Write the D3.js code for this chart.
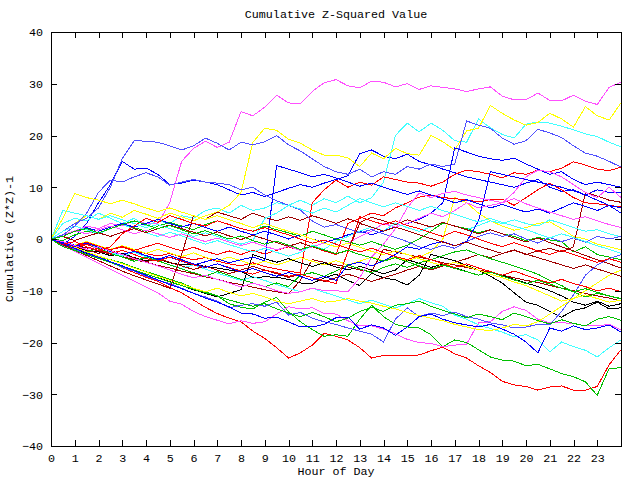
<!DOCTYPE html>
<html><head><meta charset="utf-8">
<script src="https://cdn.jsdelivr.net/npm/d3@7"></script>
<style>
body{margin:0;background:#fff}
svg text{font-family:"Liberation Mono","DejaVu Sans Mono",monospace;font-size:11.7px;fill:#000}
</style>
</head><body>
<svg id="chart" width="640" height="480"></svg>
<script>
// ---------- data (value every half hour, 0 .. 24) ----------
const stepHours = 0.5;
const hourTicks = d3.range(0, 24);
const valueTicks = [-40, -30, -20, -10, 0, 10, 20, 30, 40];

const M1 = [0,0.8,1.5,2.5,2,3,2.5,3.5, 3,3,7,15,17.5,18.9,17.7,18.7, 24.6,23.8,25.5,27.8,26.3,26.1,28.5,30.2, 30.8,29.6,29.2,30.5,30.3,29.4,30,28.9, 29.6,29.3,29,28.5,29,29.4,27.6,26.9, 26.9,28.2,26.8,26.7,27.8,26.6,26,29.3, 30.3];
const Y1 = [0,1.5,3,4.5,3.8,5,4.2,5.5, 4.8,4,5,4.3,3.5,4.5,5.2,6.5, 9,18.7,21.4,21,19.3,18.5,17.2,16.2, 16.2,15.7,14,16.6,15.5,17.5,16.5,16.2, 20,18.8,17.2,20.9,21.4,25.8,24.3,23, 22,22.5,24.3,23.2,21.6,25.6,23.8,23, 26.3];
const C1 = [0,3,4,3.5,5,4,3,4, 2.5,3.5,3,4.5,4,5.5,6,5, 6.5,5.5,6,7,6.5,7.5,6.5,7.8, 7,8.3,7,8,11,20,22.4,20.7, 22.4,21,19,18.7,23.2,21.5,20.2,19.5, 22.2,22.6,22.4,21.8,21.1,20.3,19.8,18.7, 17.8];
const B1 = [0,1.5,3,4,6,10,15.5,19, 18.9,18.7,18,17.2,18,19.5,18.5,17.2, 18.7,18.2,18.8,20,18.2,17,15.5,14, 13,12.5,13.5,12,13,12.5,14,13.5, 14.5,14,14.5,22.8,22,21.4,19.5,18.3, 19,21.2,20.5,19.6,18,16.6,16,15, 13.9];
const B2 = [0,-1,0.5,3,7,10.5,15,13.5, 13.7,12.5,10.5,10.8,11.4,11,10.5,9.5, 8.5,9,8.2,9,9.8,10.5,10,10.8, 11.5,12.2,16.5,17.2,16,15.5,16.4,15, 14.3,13.5,12.8,12,11.5,11,10.5,10, 10.8,11.5,10,9.2,9.5,8.5,9.5,9, 8.9];
const B3 = [0,0.8,1.5,2.2,1.5,2.3,3,2.3, 3,3.8,3,2.3,3,2.2,1.5,2.3, 1.5,0.8,1.5,0.8,0,0.8,0,-0.7, 0,0.8,1.5,0.8,1.6,2.3,3,3.8, 5,7,17.6,16.8,16,15.5,15.2,15.6, 14.5,13.5,12.5,13,11.5,10.5,11,10.5, 10];
const B4 = [0,-0.5,-1.2,-2,-1.5,-2.4,-3,-2.4, -3.2,-4,-3.5,-4.3,-5,-4.4,-3.8,-4.6, -4,-3.5,-4.2,14.2,13.5,12.8,12,12.5, 11.8,11,10.2,10.8,10,9.3,8.6,9.3, 8.5,7.8,7,7.6,6.8,6,6.7,5.9, 5.2,5.8,5,6,7,6.3,5.5,6.5, 6];
const B5 = [0,-0.7,-1.4,-0.8,-1.6,-2.3,-3,-2.4, -3.2,-3.9,-3.2,-4,-4.8,-5.5,-4.8,-5.6, -6.4,-5.7,-6.5,-7.2,-6.5,-7.2,-8,-7.2, -8,-5,-4.5,-5.2,-4.2,-3,-1.5,-2, -1,-0.5,-1.3,-0.5,3.5,13,12.5,12, 11.5,11,10.5,10,9.3,8.5,7.5,6.5, 5];
const B6 = [0,-0.9,-1.8,-2.7,-3.5,-4.4,-5.2,-6.1, -7,-7.9,-8.8,-9.6,-10.5,-11.4,-12.2,-13.1, -14.3,-14.5,-15.3,-15.1,-16,-17,-17,-16.5, -15.2,-15.1,-17.4,-16.6,-17.2,-18.6,-17,-15, -14.5,-15.5,-16.2,-16.6,-17,-16.5,-17.4,-18.4, -19.9,-22,-17.2,-17.8,-16.8,-17.5,-17.2,-16.6, -18];
const B8 = [0,-1.2,-2,-3,-3.6,-4.5,-5.5,-6.2, -7.2,-8,-8.6,-9.5,-10.5,-11.2,-12,-13.3, -12.8,-12.5,-13,-12.2,-14.7,-14.2,-15.3,-16, -16.5,-17.2,-17.8,-18.4,-19.9,-15.5,-13.3,-15, -14.3,-14.8,-14.1,-15,-15.5,-16.2,-16.6,-17.2, -17,-16.5,-16.6,-14,-10.8,-7,-5,-3.8, -3];
const B9 = [0,0.8,2.5,5,9,11.4,11,12, 12.8,12,10.4,11,11.5,11,10.8,10.5, 9.5,10,8.5,7.4,6.5,5.6,3.5,2.3, 2.8,2,1.2,1.8,1,0.3,-0.5,-1.5, -2,-1.2,-1.8,-0.5,0.5,1.2,0.5,1, 0,-0.8,0.3,-0.5,0.2,-0.6,0.5,0, 0.5];
const R1 = [0,-1,-2,-2.8,-3.6,-4.5,-5.5,-6.5, -7.4,-8.2,-9.4,-10.4,-11.8,-13.2,-14.4,-15.3, -16,-17.8,-19.2,-21,-23,-22,-20.5,-18.2, -18.8,-19.5,-21,-23,-22.5,-22.6,-22.6,-22.4, -21.6,-20.9,-22.2,-23,-24.5,-25.8,-27.5,-28.2, -28.5,-29.2,-28.6,-28.4,-29.2,-29.2,-28.5,-24.3, -21.4];
const R2 = [0,-0.6,-1.2,-0.8,-1.5,-2,-1.6,-2.3, -2.8,-3.3,-2.8,-3.5,-4,-3.6,-4.3,-4.8, -5.2,-4.6,-5.3,-5.8,-6.2,-6.6,7,9.5, 11.4,10,11,10.4,12,11.5,11,10.8, 10.2,11,12.5,13.3,13,12.5,11.8,12.8, 12.5,13.3,13,13.7,14.9,14.3,13.5,13.2, 13.9];
const R3 = [0,-0.5,-1.3,-0.6,-1.4,-2.1,-1.4,-2.2, -1.5,-0.8,-1.6,-2.3,-1.6,-2.4,-3,-2.3, -3,-2.2,-2.9,-2.2,-1.5,-2.2,-1.5,-2.3, -3,3,4,5,4.5,6,7,8.1, 8.5,8,7.8,7.5,7.2,7.6,7.7,6.5, 8,9.5,10.8,9.5,8,7,6.8,6.5, 6.2];
const R4 = [0,-0.8,-1.5,-1,-2,-2.8,-2.2,-3, -3.8,-4.3,-3.5,-4.2,-5,-5.5,-4.8,-5.5, -6.2,-6.8,-6,-6.5,-7.2,-6.8,-7.5,-8, -8.6,-2.5,4.3,3.5,2.8,3.5,2.6,2, 1.2,0.5,1.5,0.8,0,-0.8,-1.5,-0.7, -1.5,-2.3,-3,-2.2,-3,-3.8,-4.5,-3.8, -4.5];
const R5 = [0,-1,-0.5,-1.5,-2.2,-1.5,1,2.5, 4,3.2,4.5,3.8,3,2.5,3.5,2.8, 2,1.5,2.2,1.5,0.8,0,-0.8,-0.2, -1,-1.8,-2.5,-1.8,-2.6,-3.4,-4,-3.2, -4,-4.8,-5.5,-4.8,-5.6,-6.3,-7,-6.2, -7,-7.8,-8.5,-7.8,-8.6,-9.2,-10,-9.5, -10.2];
const G1 = [0,-1.2,-2,-2.5,-3.5,-4,-4.6,-5.5, -6.3,-7,-7.8,-8.5,-9.5,-10.2,-11,-12.5, -13.2,-13.5,-12.2,-11.3,-14,-16,-17.5,-18.8, -18.5,-18.8,-15.5,-12.8,-15,-16.5,-17,-17.2, -18.5,-20.8,-19.5,-20,-21.4,-22.8,-23.4,-23.6, -24.5,-24.2,-25.1,-26,-26.6,-27.6,-30.2,-25, -24.9];
const G2 = [0,-0.3,0.8,1.5,1,2,2.8,2.2, 1.5,2.5,3.2,2.5,1.8,2.8,3.5,2.8, 2,1.5,2.5,1.8,1.2,0.5,1.5,0.8, 0,-0.5,-1.2,-0.5,-1.3,-2,-1.2,0, 1.5,3.1,2.5,2,1.2,1.8,1,0.5, -0.3,0.3,-0.2,-0.5,-2.5,-1.5,-3,-3.5, -4];
const G3 = [0,-1,-1.8,-2.5,-1.8,-2.8,-3.5,-4.3, -3.5,-4.2,-5,-5.8,-6.5,-7.2,-6.3,-7, -7.8,-8.5,-9.2,-8.5,-9.2,-7,-6.5,-7.2, -6.2,-5,-5.8,-6.5,-5.5,-4.8,-5.5,-4.6, -4,-3.2,-2.5,-2.1,-3,-3.8,-4.5,-5.2, -6,-6.8,-8,-9,-10.2,-11.2,-10.5,-11, -11.5];
const G4 = [0,-1.5,-2.2,-3,-3.8,-4.5,-5.3,-6, -6.8,-7.5,-8.3,-9,-9.7,-10.4,-11,-11.8, -12.4,-13,-12.5,-13.5,-14.3,-15,-14.2,-15, -16,-15.3,-14,-13.2,-14,-12.8,-12.5,-12, -13,-13.8,-14.5,-15.2,-14.5,-15,-15.6,-14.3, -15,-15.8,-16.4,-15.6,-16.3,-16.8,-15.5,-15, -15.7];
const G5 = [0,0.5,1.5,2,1.2,2,2.8,3.5, 2.8,2,2.6,1.8,1,1.6,0.8,0, 0.6,-0.3,-1,-0.4,-1.2,-2,-1.4,-2.1, -2.8,-2.2,-3,-3.6,-4.3,-3.6,-4.4,-5.2, -5.8,-5,-5.7,-6.3,-7,-6.4,-7.2,-7.9, -8.6,-8,-8.7,-9.5,-10.2,-9.6,-10.3,-11, -11.6];
const M2 = [0,-1.2,-2.4,-3.5,-4.7,-5.8,-7,-8.1, -9.3,-10.4,-12,-12.6,-14,-15,-15.7,-16.4, -15.8,-16.3,-16,-14.5,-13.1,-13.5,-13.3,-14.4, -14.5,-15.8,-16.8,-16.8,-17.4,-18.3,-19.4,-20, -20.2,-20.8,-20.5,-20.3,-16.2,-16,-14,-13.1, -13.8,-15.5,-16.2,-16.2,-16.3,-16.8,-16.8,-16.5, -17.6];
const M3 = [0,0.8,1.6,1,1.8,2.5,1.8,1, 1.7,1,0.3,1,0.2,-0.5,0.2,-0.6, -1.3,-0.6,-1.4,-2.1,-1.4,-2.2,-1.5,-0.8, -1.5,-0.8,0.5,1.5,3,2.3,3,4, 5,4.3,5.5,7,6,6.5,7,9, 12,13.3,13,12,10.5,9,8,10, 8];
const M4 = [0,-0.5,-1.3,-2,-1.5,-2.3,-3,-3.8, -4.5,-5.2,-6,-6.8,-7.5,-7,-7.8,-8.5, -9.3,-8.5,-9.2,-10,-10.5,-10.2,-9.5,-10, -10,-10.2,-7.5,-3.5,-1,2,6,8.9, 8,8.8,9.2,8.5,8,7.5,7,7.8, 6.8,6,5.2,4.5,3.8,4.3,3.5,2.8, 2.2];
const C2 = [0,-0.6,-1.3,-1,-1.8,-2.6,-3.3,-2.6, -3.4,-4.2,-5,-5.7,-5,-5.8,-6.6,-7.3, -8,-7.3,-8,-8.8,-9.5,-10.2,-9.5,-10.3, -11,-11.8,-12.5,-11.8,-12.6,-13.3,-12.5,-11.5, -12.3,-13,-14.7,-15.5,-16.6,-17.3,-18,-18.9, -18.5,-19.5,-21.8,-19.9,-20.8,-21.5,-22.8,-21, -19.5];
const C3 = [0,1.5,2.5,1.8,1,2,2.8,2, 1.2,0.5,1.3,0.6,-0.2,-1,-0.3,-1.1, -1.8,-2.5,-1.8,-2.6,-3.3,-2.6,-1.2,-2, -0.5,0.5,1.5,2.3,1.6,3,2.2,1.5, 2.3,3.2,2.5,1.8,2.6,3.5,3,3.7, 3,2.5,3.7,3,2.2,1.5,1.8,1, 0.4];
const C4 = [0,5.5,5,4.5,3.8,4.5,3.7,3, 2.2,2.8,2,1.3,0.5,1.2,0.5,-0.3, -1,-0.3,4,5,6.5,5.8,5,6, 5.2,6.5,7.8,7,6.2,7,6.3,5.5, 6.3,5.5,4.8,4,3.3,4,3.2,2.5, 1.8,1,0.2,1,0.3,-0.5,-1.3,-2, -2.8];
const Y2 = [0,-0.6,-1.2,-0.5,-1.3,-2,-1.3,-2, -2.8,-2,-2.7,-3.4,-2.7,-3.5,-4.2,-3.5, -4.2,-5,-4.3,-5,-4.3,-3.6,-4.3,-5, -4.2,-5,-4.3,-3.5,-4.2,-3.5,-4.2,-3.5, -2.5,0,8,7,5,3.5,2.5,1.7, 2.2,3,3.3,2,0.5,0,-1,-1.5, -2.1];
const Y3 = [0,-0.8,-1.6,-2.5,-3.3,-4,-4.8,-5.6, -6.4,-7.2,-8,-8.7,-9.5,-10.2,-9.5,-10.3, -11,-10.5,-11.2,-12,-12.5,-12,-11.5,-12.2, -12,-11.5,-12,-12.4,-13,-13.5,-14.2,-14.8, -15.3,-15.8,-16.5,-17,-17.5,-17.7,-17.2,-16.5, -16.8,-16,-14.5,-13,-11.5,-10,-8.5,-7, -6];
const Y4 = [0,4,8.8,8,7.5,6.8,7.5,6.8, 6,5.3,6,5.2,4.5,3.8,4.5,3.7, 3,2.2,3,2.2,1.5,0.8,0,-0.8, -1.5,-0.8,-1.6,-2.4,-3,-2.3,-3,-3.8, -4.5,-5.2,-4.5,-5.3,-6,-6.8,-7.5,-8.3, -9,-10,-11,-12,-11.5,-10.8,-11.5,-12.2, -11.8];
const K1 = [0,-1,-1.5,-2.2,-2.5,-3.2,-2.8,-3.6, -4.2,-3.9,-4.6,-5,-4.8,-5.3,-5.6,-6, -6.2,-7.5,-7.3,-7.4,-7.8,-8.5,-8.6,-7.5, -6.8,-8,-9,-6.6,-7.5,-7.9,-8.9,-7, -3,-3.6,-4.2,-5.1,-6,-7.2,-8.5,-10.4, -12.2,-12.8,-14,-15.1,-13.8,-13.3,-12.2,-13.5, -13.3];
const K2 = [0,-1,-2,-2.8,-3.6,-4.4,-5.2,-6, -6.8,-7.5,-8.2,-9,-9.8,-10.5,-11.2,-10.5, -9.8,-3,-3.8,-4.5,-3.8,-4.6,-5.3,-4.6, -5.4,-6,-5.3,-6,-6.7,-6,-4,-4.7, -5.5,-4.8,-5.5,-6.3,-7,-6.3,-7,-7.8, -8.5,-9.2,-10,-11,-12.2,-12.8,-12,-13, -12.5];
const DR1 = [0,-0.6,-1.2,-1.7,-2.3,-2.9,-3.4,-4, -4.5,-5.1,-5.6,-6.2,-6.7,-7.3,-7.8,-8.4, -8.8,-9.3,-9.8,-10.2,-10.6,-8,-4,-4.5, -5,-5.4,-6,-6.3,-2,-2.5,-3,-3.5, -4,-4.6,-5,-5.5,-6,-6.4,-7,-7.5, -8,-8.4,-9,-9.5,-10,-10.5,-11,-11.4, -12];
const DR2 = [0,-0.7,-1.4,-2.1,-2.8,-2.2,-3,-3.7, -4.4,-3.8,-4.5,-5.2,-5.9,-5.2,-6,-6.7, -6,-5.3,-6,-6.7,-7.4,-6.8,-7.5,-8.2, -7.5,-6.8,-7.5,-8.2,-7.5,-6.8,-6,-5.3, -6,-5.2,-4.5,-3.8,-3,-3.6,-2.8,-2.2, -3,-2.3,-1.8,-2.5,-1.5,9,8.3,7.5, 7.1];
const DR3 = [0,-1.1,-2.2,-3.2,-4.2,-5.2,-6.2,-7.1, -7.9,-8.7,-9.5,-3,4.5,3.8,5.2,4.5, 3.8,5,4.2,3.5,4.3,3.6,4.5,3.8, 3,3.9,3.2,4.2,3.5,2.8,3.7,3, 2.3,3.2,2.5,1.8,1,1.8,1,0.2, -0.6,0.2,-0.7,-1.5,-2.3,-3.2,-4,-4.8, -5.6];
const DR4 = [0,0.5,-0.3,0.5,1.2,0.5,1.3,2, 1.2,2,2.7,2,1.3,0.6,1.4,0.6, -0.1,0.7,0,-0.7,-1.4,-0.7,-1.5,-2.2, -2.9,-2.2,3,2.3,1.5,2.3,1.6,0.8, 0.1,-0.6,-1.3,-0.6,-1.4,-2.1,-2.8,-2.1, -2.9,-3.6,-4.3,-5,-5.7,-5,-5.8,-6.5, -7.2];

// drawing order and colour group of every series
const seriesList = [R1,G1,B2,M1,C1,Y1,K1,DR1,B1, R2,G2,B3,M2,C2,Y2,K2,DR2,B8, R3,G3,B4,M3,C3,Y3,DR3,B9, R4,G4,B5,M4,C4,Y4,DR4, R5,G5,B6];
const seriesGroup = ["red","green","blue","magenta","cyan","yellow","black","darkred","midblue",
  "red","green","blue","magenta","cyan","yellow","black","darkred","midblue",
  "red","green","blue","magenta","cyan","yellow","darkred","midblue",
  "red","green","blue","magenta","cyan","yellow","darkred",
  "red","green","blue"];

// ---------- style ----------
const palette = {red:"#ff0000", green:"#00c000", blue:"#0000ff", magenta:"#ff50ff", cyan:"#40ffff",
  yellow:"#ffff00", black:"#000000", darkred:"#a00000", midblue:"#5050ff"};

const svg = d3.select("#chart");
const L = 51, R = 621, T = 32, B = 446;
const x = d3.scaleLinear().domain([0, 24]).range([L, R]);
const y = d3.scaleLinear().domain([-40, 40]).range([B, T]);

svg.append("clipPath").attr("id","pc").append("rect")
  .attr("x", L).attr("y", T).attr("width", R - L).attr("height", B - T);

const line = d3.line().x((d, i) => x(i * stepHours)).y(d => y(d));
svg.append("g").attr("clip-path","url(#pc)")
  .selectAll("path").data(seriesList).join("path")
  .attr("d", d => line(d))
  .attr("fill","none")
  .attr("stroke", (d, i) => palette[seriesGroup[i]])
  .attr("stroke-width", 1)
  .attr("shape-rendering","crispEdges");

// axes with inward ticks
function styleAxis(g){
  g.select(".domain").remove();
  g.selectAll("line").attr("stroke","#000").attr("shape-rendering","crispEdges");
  g.selectAll("text").attr("font-family","Liberation Mono, DejaVu Sans Mono, monospace").attr("font-size","11.7px").attr("fill","#000");
}
svg.append("g").attr("transform",`translate(0,${B})`)
  .call(d3.axisBottom(x).tickValues(hourTicks).tickSize(-6).tickPadding(8).tickFormat(d3.format("d")))
  .call(styleAxis);
svg.append("g").attr("transform",`translate(0,${T})`)
  .call(d3.axisTop(x).tickValues(hourTicks).tickSize(-6).tickFormat(""))
  .call(styleAxis);
svg.append("g").attr("transform",`translate(${L},0)`)
  .call(d3.axisLeft(y).tickValues(valueTicks).tickSize(-6).tickPadding(8).tickFormat(d3.format("d")))
  .call(styleAxis);
svg.append("g").attr("transform",`translate(${R},0)`)
  .call(d3.axisRight(y).tickValues(valueTicks).tickSize(-6).tickFormat(""))
  .call(styleAxis);

svg.append("rect").attr("x", L).attr("y", T).attr("width", R - L).attr("height", B - T)
  .attr("fill","none").attr("stroke","#000").attr("stroke-width",1).attr("shape-rendering","crispEdges");

svg.append("text").attr("x", 336).attr("y", 15).attr("text-anchor","middle")
  .attr("dominant-baseline","middle").text("Cumulative Z-Squared Value");
svg.append("text").attr("x", 336).attr("y", 472).attr("text-anchor","middle")
  .attr("dominant-baseline","middle").text("Hour of Day");
svg.append("text").attr("transform","translate(10,239) rotate(-90)").attr("text-anchor","middle")
  .attr("dominant-baseline","middle").text("Cumulative (Z*Z)-1");
</script>
</body></html>
